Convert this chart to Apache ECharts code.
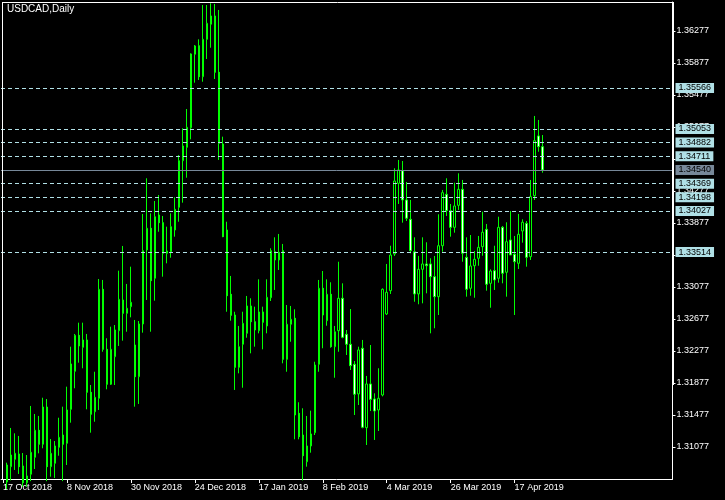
<!DOCTYPE html>
<html>
<head>
<meta charset="utf-8">
<script src="https://cdn.jsdelivr.net/npm/echarts@6/dist/echarts.min.js"></script>
<style>
html,body{margin:0;padding:0;background:#000;}
#chart{width:725px;height:500px;}
</style>
</head>
<body>
<div id="chart"></div>
<script>
const dates = [
'17 Oct 2018','18 Oct 2018','19 Oct 2018','22 Oct 2018','23 Oct 2018','24 Oct 2018','25 Oct 2018','26 Oct 2018','29 Oct 2018','30 Oct 2018','31 Oct 2018',
'1 Nov 2018','2 Nov 2018','5 Nov 2018','6 Nov 2018','7 Nov 2018','8 Nov 2018','9 Nov 2018','12 Nov 2018','13 Nov 2018','14 Nov 2018','15 Nov 2018','16 Nov 2018','19 Nov 2018','20 Nov 2018','21 Nov 2018','22 Nov 2018','23 Nov 2018','26 Nov 2018','27 Nov 2018','28 Nov 2018','29 Nov 2018','30 Nov 2018',
'3 Dec 2018','4 Dec 2018','5 Dec 2018','6 Dec 2018','7 Dec 2018','10 Dec 2018','11 Dec 2018','12 Dec 2018','13 Dec 2018','14 Dec 2018','17 Dec 2018','18 Dec 2018','19 Dec 2018','20 Dec 2018','21 Dec 2018','24 Dec 2018','26 Dec 2018','27 Dec 2018','28 Dec 2018','31 Dec 2018',
'2 Jan 2019','3 Jan 2019','4 Jan 2019','7 Jan 2019','8 Jan 2019','9 Jan 2019','10 Jan 2019','11 Jan 2019','14 Jan 2019','15 Jan 2019','16 Jan 2019','17 Jan 2019','18 Jan 2019','21 Jan 2019','22 Jan 2019','23 Jan 2019','24 Jan 2019','25 Jan 2019','28 Jan 2019','29 Jan 2019','30 Jan 2019','31 Jan 2019',
'1 Feb 2019','4 Feb 2019','5 Feb 2019','6 Feb 2019','7 Feb 2019','8 Feb 2019','11 Feb 2019','12 Feb 2019','13 Feb 2019','14 Feb 2019','15 Feb 2019','18 Feb 2019','19 Feb 2019','20 Feb 2019','21 Feb 2019','22 Feb 2019','25 Feb 2019','26 Feb 2019','27 Feb 2019','28 Feb 2019',
'1 Mar 2019','4 Mar 2019','5 Mar 2019','6 Mar 2019','7 Mar 2019','8 Mar 2019','11 Mar 2019','12 Mar 2019','13 Mar 2019','14 Mar 2019','15 Mar 2019','18 Mar 2019','19 Mar 2019','20 Mar 2019','21 Mar 2019','22 Mar 2019','25 Mar 2019','26 Mar 2019','27 Mar 2019','28 Mar 2019','29 Mar 2019',
'1 Apr 2019','2 Apr 2019','3 Apr 2019','4 Apr 2019','5 Apr 2019','8 Apr 2019','9 Apr 2019','10 Apr 2019','11 Apr 2019','12 Apr 2019','15 Apr 2019','16 Apr 2019','17 Apr 2019','18 Apr 2019','19 Apr 2019','22 Apr 2019','23 Apr 2019','24 Apr 2019','25 Apr 2019','26 Apr 2019'
];

const openP = [
1.30400,1.30640,1.30831,1.30923,1.30990,1.30840,1.30630,1.30736,1.30948,1.31286,
1.31111,1.31577,1.30831,1.30873,1.31073,1.31227,1.31123,1.31548,1.32023,1.32473,
1.32323,1.32415,1.31761,1.31518,1.31686,1.33048,1.32298,1.31861,1.32206,1.32531,
1.32915,1.32748,1.32831,1.32352,1.31956,1.32615,1.33540,1.33811,1.33186,1.33977,
1.33881,1.33498,1.33518,1.33790,1.34073,1.34656,1.34823,1.35068,1.35986,1.36093,
1.35706,1.36173,1.36361,1.36465,1.35761,1.34865,1.33790,1.32986,1.32727,1.32073,
1.32361,1.32498,1.32840,1.32643,1.32531,1.32765,1.32590,1.32943,1.33518,1.33415,
1.33531,1.32173,1.32611,1.32686,1.31498,1.31227,1.30893,1.31090,1.31256,1.32111,
1.33061,1.32656,1.32986,1.32331,1.32531,1.32936,1.32486,1.32361,1.32111,1.31740,
1.32311,1.31318,1.31865,1.31677,1.31540,1.31727,1.32740,1.33031,1.33490,1.34373,
1.34531,1.34165,1.33923,1.33518,1.32990,1.33298,1.33365,1.33365,1.33206,1.32956,
1.33593,1.34236,1.34031,1.33823,1.34098,1.34298,1.33448,1.33061,1.33343,1.33436,
1.33581,1.33798,1.33123,1.33281,1.33186,1.33823,1.33261,1.33665,1.33486,1.33373,
1.33777,1.33873,1.33456,1.34218,1.34965,1.34831
];
const highP = [
1.30660,1.30881,1.31315,1.31248,1.31215,1.31002,1.30977,1.31590,1.31490,1.31465,
1.31693,1.31677,1.31177,1.31152,1.31443,1.31581,1.31831,1.32331,1.32490,1.32631,
1.32631,1.32490,1.31852,1.32018,1.33177,1.33165,1.32436,1.32581,1.32602,1.33281,
1.33590,1.33115,1.33331,1.32665,1.32652,1.33990,1.34436,1.33998,1.34152,1.34227,
1.33965,1.33831,1.33998,1.34198,1.34727,1.35061,1.35302,1.35998,1.36102,1.36173,
1.36602,1.36602,1.36623,1.36615,1.36540,1.34956,1.33893,1.33215,1.32768,1.32590,
1.32768,1.32965,1.32936,1.32831,1.33173,1.32831,1.33173,1.33561,1.33698,1.33740,
1.33615,1.32852,1.32840,1.32798,1.31636,1.31561,1.31465,1.31531,1.32143,1.33165,
1.33277,1.33173,1.33136,1.32590,1.33393,1.33123,1.32540,1.32802,1.32152,1.32331,
1.32415,1.31965,1.32352,1.31748,1.32061,1.33060,1.33365,1.33593,1.34561,1.34665,
1.34652,1.34390,1.34165,1.33698,1.33465,1.33698,1.33636,1.33436,1.33465,1.33986,
1.34290,1.34436,1.34115,1.34381,1.34498,1.34415,1.33698,1.33727,1.33527,1.33715,
1.34018,1.33865,1.33298,1.33593,1.33956,1.33840,1.33886,1.34027,1.33715,1.33990,
1.33923,1.33902,1.34415,1.35215,1.35165,1.34977
];
const lowP = [
1.30300,1.30550,1.30660,1.30790,1.30740,1.30580,1.30580,1.30650,1.30802,1.30998,
1.31061,1.30650,1.30706,1.30690,1.30968,1.30650,1.30852,1.31381,1.31811,1.32131,
1.32061,1.31548,1.31256,1.31393,1.31540,1.32268,1.31798,1.31852,1.31852,1.32340,
1.32406,1.32518,1.32698,1.31581,1.31615,1.32506,1.32915,1.32518,1.32906,1.33768,
1.33206,1.33373,1.33443,1.33706,1.33893,1.34131,1.34443,1.34923,1.35631,1.35665,
1.35643,1.35927,1.36068,1.35677,1.34665,1.33700,1.32768,1.32656,1.31790,1.31998,
1.31818,1.32443,1.32248,1.32331,1.32498,1.32298,1.32498,1.32902,1.33040,1.33290,
1.32123,1.32018,1.32393,1.31173,1.31173,1.30660,1.30831,1.31006,1.31227,1.32018,
1.32311,1.32593,1.32318,1.31943,1.32268,1.32436,1.32227,1.32040,1.31477,1.31602,
1.31311,1.31102,1.31527,1.31165,1.31277,1.31710,1.32727,1.32990,1.33465,1.34115,
1.33881,1.33902,1.33498,1.32893,1.32861,1.32873,1.32998,1.32498,1.32561,1.32727,
1.33518,1.33965,1.33706,1.33756,1.34040,1.33393,1.32956,1.32968,1.32943,1.33343,
1.33468,1.33031,1.32818,1.33040,1.33131,1.33123,1.32956,1.33477,1.32727,1.33302,
1.33631,1.33331,1.33415,1.34165,1.34768,1.34506
];
const closeP = [
1.30600,1.30852,1.30977,1.30998,1.30831,1.30630,1.30715,1.31011,1.31286,1.31111,
1.31577,1.30831,1.30998,1.31090,1.31198,1.31111,1.31540,1.32115,1.32473,1.32340,
1.32415,1.31761,1.31486,1.31698,1.33048,1.32298,1.31861,1.32298,1.32540,1.32923,
1.32748,1.32811,1.32886,1.31956,1.32615,1.33531,1.33811,1.33156,1.33956,1.33881,
1.33498,1.33527,1.33831,1.34048,1.34656,1.34840,1.35073,1.35990,1.36090,1.35706,
1.36173,1.36373,1.36465,1.35761,1.34873,1.33706,1.32968,1.32723,1.32073,1.32331,
1.32623,1.32840,1.32643,1.32540,1.32765,1.32636,1.32948,1.33531,1.33415,1.33511,
1.32173,1.32611,1.32673,1.31477,1.31206,1.30968,1.31090,1.31240,1.32102,1.33061,
1.32727,1.32986,1.32331,1.32518,1.32936,1.32448,1.32361,1.32093,1.31736,1.32290,
1.31323,1.31865,1.31673,1.31527,1.31686,1.33048,1.33011,1.33477,1.34402,1.34540,
1.34165,1.33936,1.33531,1.32990,1.33298,1.33365,1.33343,1.33206,1.32956,1.33593,
1.34256,1.34031,1.33823,1.34090,1.34298,1.33498,1.33048,1.33340,1.33423,1.33573,
1.33761,1.33111,1.33277,1.33165,1.33823,1.33248,1.33643,1.33477,1.33393,1.33736,
1.33886,1.33448,1.34206,1.34906,1.34831,1.34540
];

const xTickLabels = ['17 Oct 2018','8 Nov 2018','30 Nov 2018','24 Dec 2018','17 Jan 2019','8 Feb 2019','4 Mar 2019','26 Mar 2019','17 Apr 2019'];
const yTicks = [1.31077,1.31477,1.31877,1.32277,1.32677,1.33077,1.33477,1.33877,1.34277,1.34677,1.35077,1.35477,1.35877,1.36277];
const levels = [1.35566,1.35053,1.34882,1.34711,1.34369,1.34198,1.34027,1.33514];
const bidPrice = 1.34540;
const futureSlots = 32;
const yMin = 1.30677, yMax = 1.366395;

const FONT = "'Liberation Sans', Arial, sans-serif";
const categories = dates.concat(new Array(futureSlots).fill(''));
const ohlc = dates.map((d, i) => [openP[i], closeP[i], lowP[i], highP[i]]);
const isTick = (i, v) => xTickLabels.indexOf(v) >= 0;

const lvlColor = '#b0e0e6';
const bidColor = '#778899';
const mlLabel = (bg) => ({
  show: true, position: 'end', distance: 3,
  formatter: (p) => Number(p.value).toFixed(5),
  color: '#000', fontSize: 9, fontFamily: FONT, lineHeight: 10,
  backgroundColor: bg, padding: [0, 3, 0, 3]
});
const markData = levels.map(v => ({
  yAxis: v,
  lineStyle: { color: lvlColor, type: [4, 3], width: 1 },
  label: mlLabel(lvlColor)
}));
markData.push({
  yAxis: bidPrice,
  lineStyle: { color: bidColor, type: 'solid', width: 1 },
  label: mlLabel(bidColor)
});

const chart = echarts.init(document.getElementById('chart'), null, { renderer: 'canvas' });
chart.setOption({
  backgroundColor: '#000',
  animation: false,
  title: {
    text: 'USDCAD,Daily', left: 7, top: 4, padding: 0,
    textStyle: { color: '#fff', fontSize: 10, fontWeight: 'normal', fontFamily: FONT }
  },
  grid: { left: 0.5, top: 2, width: 672, height: 477, containLabel: false },
  xAxis: {
    type: 'category', data: categories, boundaryGap: true,
    axisLine: { show: true, lineStyle: { color: '#fff', width: 1 } },
    axisTick: { show: true, alignWithLabel: true, length: 4, interval: isTick, lineStyle: { color: '#fff' } },
    axisLabel: { show: true, interval: isTick, align: 'left', color: '#fff', fontSize: 9, fontFamily: FONT, margin: 4 },
    splitLine: { show: false }
  },
  yAxis: {
    type: 'value', position: 'right', min: yMin, max: yMax, scale: true,
    axisLine: { show: true, lineStyle: { color: '#fff', width: 1 } },
    axisTick: { show: true, length: 3, customValues: yTicks, lineStyle: { color: '#fff' } },
    axisLabel: { show: true, customValues: yTicks, formatter: (v) => Number(v).toFixed(5), color: '#fff', fontSize: 9, fontFamily: FONT, margin: 4 },
    splitLine: { show: false }
  },
  graphic: [
    { type: 'line', z: 100, shape: { x1: 2.5, y1: 2.5, x2: 2.5, y2: 479 }, style: { stroke: '#fff', lineWidth: 1 } },
    { type: 'line', z: 100, shape: { x1: 2, y1: 2.5, x2: 673, y2: 2.5 }, style: { stroke: '#fff', lineWidth: 1 } },
    { type: 'rect', z: 100, shape: { x: 672, y: 2, width: 2, height: 383 }, style: { fill: '#fff' } }
  ],
  series: [{
    type: 'candlestick',
    data: ohlc,
    barWidth: 2,
    clip: true,
    itemStyle: {
      color: '#000', color0: '#fff',
      borderColor: '#00ff00', borderColor0: '#00ff00', borderColorDoji: '#00ff00',
      borderWidth: 1
    },
    markLine: {
      silent: true, symbol: 'none', animation: false, precision: 5,
      data: markData
    }
  }]
});
</script>
</body>
</html>
